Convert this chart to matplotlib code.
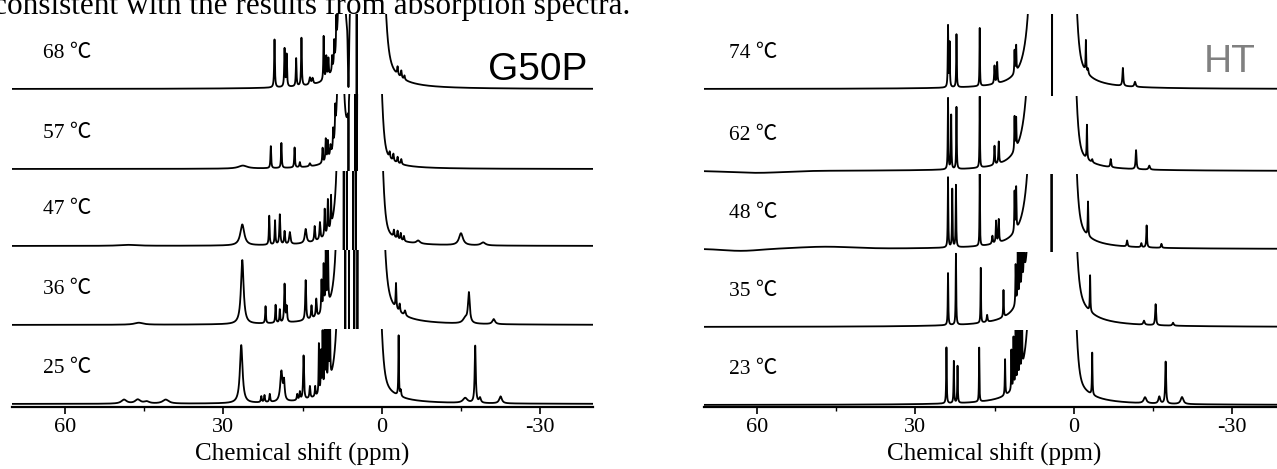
import numpy as np
import matplotlib
matplotlib.use("Agg")
import matplotlib.pyplot as plt
from matplotlib.patches import Rectangle

plt.rcParams["axes.unicode_minus"] = False
SERIF = ["Liberation Serif", "Noto Sans CJK SC", "DejaVu Sans"]

# --- chemical shift grid (ppm) ---
ppm = np.linspace(70, -40, 22001)

# --- G50P spectra: lines (ppm, height px, hwhm), bands (gaussian), notches (ppm, depth, width) ---
G50P_LABELS = ["68 ℃", "57 ℃", "47 ℃", "36 ℃", "25 ℃"]

G50P_68_LINES = [(20.3, 48, .08), (18.4, 38, .08), (18.0, 32, .08), (16.2, 28, .08), (15.2, 48, .08),
                 (13.6, 7, .15), (13.1, 6, .15), (11.0, 44, .07), (10.5, 22, .08), (10.1, 18, .08),
                 (9.4, 14, .06), (9.0, 22, .06), (8.6, 30, .06),
                 (7.6, 400, .3), (5.3, 300, .3), (2.0, 360, 1.0),
                 (-3.0, 8, .1), (-3.7, 7, .1), (-4.3, 4, .1)]
G50P_68_BANDS = [(2.0, 900, 1.3)]
G50P_68_NOTCH = [(6.3, .97, .15), (4.75, 1.05, .03)]

G50P_57_LINES = [(26.3, 3, 1.0), (21.0, 22, .08), (19.0, 25, .08), (16.5, 20, .08), (15.5, 5, .1),
                 (13.6, 3, .15), (11.2, 15, .08), (10.6, 22, .08), (10.2, 18, .08), (9.7, 10, .1),
                 (9.2, 18, .06), (8.8, 26, .06),
                 (7.8, 400, .3), (5.5, 300, .3), (2.2, 150, 1.0),
                 (-1.5, 6, .1), (-2.2, 7, .1), (-3.0, 6, .1), (-3.7, 5, .1)]
G50P_57_BANDS = [(2.2, 900, 1.1)]
G50P_57_NOTCH = [(6.3, 1.1, .04), (5.0, 1.1, .03), (4.7, 1.1, .03)]

G50P_47_LINES = [(48, 1, 2), (26.4, 21, .45), (21.3, 29, .08), (20.2, 24, .08), (19.3, 30, .1),
                 (18.4, 13, .1), (17.4, 12, .15), (14.4, 14, .2), (12.7, 15, .1), (11.7, 17, .1),
                 (10.8, 27, .08), (10.2, 33, .08), (9.6, 30, .06),
                 (7.8, 500, .3), (5.8, 400, .4), (2.0, 150, 1.0),
                 (-2.3, 7, .1), (-3.0, 8, .1), (-3.6, 7, .1), (-4.2, 5, .1), (-6.9, 3, .4),
                 (-15.0, 12, .45), (-19.2, 3, .5)]
G50P_47_BANDS = [(2.0, 900, 1.1)]
G50P_47_NOTCH = [(7.2, 1.1, .03), (6.6, 1.1, .03), (5.4, 1.1, .03), (4.9, 1.1, .03)]

G50P_36_LINES = [(46, 2, 1.0), (26.4, 64, .3), (22.0, 17, .08), (20.1, 18, .08), (19.3, 13, .08),
                 (18.4, 38, .1), (18.0, 15, .1), (14.4, 40, .1), (13.3, 13, .1), (12.4, 18, .1),
                 (11.4, 32, .08), (11.0, 45, .08), (10.6, 55, .08), (10.2, 65, .08),
                 (7.8, 600, .3), (6.5, 400, .4), (2.0, 360, 1.0),
                 (-2.7, 25, .08), (-3.4, 8, .1), (-4.4, 5, .15), (-15.8, 5, .5), (-16.5, 30, .2),
                 (-21.2, 5, .3)]
G50P_36_BANDS = [(2.0, 900, 1.2)]
G50P_36_NOTCH = [(6.9, 1.2, .03), (6.2, 1.2, .03), (5.2, 1.2, .03), (4.6, 1.2, .03)]

G50P_25_LINES = [(48.8, 4, .6), (46.2, 4, .6), (44.5, 2, .6), (40.9, 4, .7), (26.6, 58, .3),
                 (22.8, 6, .1), (22.2, 7, .1), (21.2, 8, .1), (19.0, 30, .25), (18.5, 18, .15),
                 (16.0, 6, .1), (15.5, 8, .1), (14.8, 44, .1), (13.6, 12, .1), (12.6, 10, .08),
                 (11.9, 50, .06), (11.5, 40, .06), (11.2, 58, .06), (10.8, 60, .06), (10.5, 65, .06),
                 (10.1, 70, .06), (9.8, 72, .06), (7.5, 700, .35), (5.0, 300, .6), (2.5, 200, 1.0),
                 (-3.2, 60, .06), (-3.6, 6, .1), (-15.8, 5, .5), (-17.7, 57, .12), (-18.6, 5, .2),
                 (-22.5, 7, .3)]
G50P_25_BANDS = [(2.5, 900, 1.2)]
G50P_25_NOTCH = []

# --- HT spectra ---
HT_LABELS = ["74 ℃", "62 ℃", "48 ℃", "35 ℃", "23 ℃"]

HT_74_LINES = [(23.8, 61, .06), (23.5, 44, .06), (22.2, 53, .06), (17.8, 58, .05), (15.0, 18, .08),
               (14.5, 21, .08), (11.2, 23, .06), (10.9, 26, .06), (7.0, 848, .5), (2.0, 296, 1.0),
               (-2.3, 31, .06), (-2.7, 5, .1), (-9.3, 18, .1), (-11.6, 5, .15)]
HT_74_BANDS = [(2.5, 2000, 1.3)]
HT_74_NOTCH = [(4.1, 1.1, .03)]

HT_62_LINES = [(23.8, 71, .06), (23.2, 54, .06), (22.2, 62, .06), (17.8, 71, .05), (15.0, 19, .08),
               (14.2, 22, .08), (11.2, 34, .06), (10.9, 30, .06), (7.0, 1275, .5), (2.0, 184, 1.0),
               (-2.5, 34, .06), (-3.5, 3, .1), (-7.0, 8, .1), (-11.8, 19, .1), (-14.3, 4, .15)]
HT_62_BANDS = [(2.5, 2000, 1.3), (60, -2, 6)]
HT_62_NOTCH = []

HT_48_LINES = [(23.8, 70, .06), (23.0, 58, .06), (22.3, 62, .06), (17.8, 72, .05), (15.4, 8, .1),
               (14.7, 22, .08), (14.2, 23, .08), (11.2, 40, .06), (10.9, 42, .06), (7.0, 1000, .5),
               (2.0, 250, 1.0), (-2.7, 34, .06), (-10.1, 6, .1), (-12.8, 4, .1), (-13.8, 22, .08),
               (-16.6, 4, .1)]
HT_48_BANDS = [(2.5, 2000, 1.3), (63, -2, 4), (47, 2, 6)]
HT_48_NOTCH = [(4.2, 1.1, .03)]

HT_35_LINES = [(23.8, 52, .06), (22.3, 71, .06), (17.6, 55, .05), (16.4, 7, .1), (13.3, 27, .06),
               (11.0, 40, .06), (10.6, 50, .06), (10.2, 55, .06), (9.8, 60, .06), (9.4, 65, .06),
               (7.0, 1000, .5), (2.5, 430, 1.0),
               (-3.1, 36, .06), (-13.3, 4, .15), (-15.5, 21, .1), (-18.8, 3, .15)]
HT_35_BANDS = [(2.5, 2000, 1.3)]
HT_35_NOTCH = []

HT_23_LINES = [(24.1, 56, .06), (22.7, 42, .06), (22.0, 37, .06), (17.9, 54, .05), (13.0, 36, .06),
               (11.8, 40, .05), (11.4, 50, .05), (11.0, 60, .05), (10.6, 65, .05), (10.2, 70, .05),
               (9.8, 72, .05), (7.0, 1000, .5), (2.5, 300, 1.0),
               (-3.5, 42, .06), (-13.5, 6, .3), (-16.2, 7, .2), (-17.4, 42, .1), (-20.5, 7, .3)]
HT_23_BANDS = [(2.5, 2000, 1.3)]
HT_23_NOTCH = []

# baseline heights (px above the axis line) and clip height above each baseline
G50P_BASE = [318, 238, 161, 82, 3]
HT_BASE = [318, 236, 158, 80, 2]
CAP = 75


def spectrum(lines, bands, notches):
    y = np.zeros_like(ppm)
    for c, h, w in lines:
        y += h * w ** 2 / (w ** 2 + (ppm - c) ** 2)
    for c, h, w in bands:
        y += h * np.exp(-np.log(2) * ((ppm - c) / w) ** 2)
    for c, d, w in notches:
        y *= 1 - d * np.exp(-((ppm - c) / w) ** 2)
    return y


def draw_panel(ax, spectra, bases, labels, label_x):
    for i, y in enumerate(spectra):
        base = bases[i]
        top = base + CAP
        bottom = bases[i + 1] + CAP if i + 1 < len(bases) else 0
        line, = ax.plot(ppm, base + y, color="black", lw=1.3)
        line.set_clip_path(Rectangle((-40, bottom), 110, top - bottom, transform=ax.transData))
        ax.text(label_x, base + 36, labels[i], ha="left", va="center",
                fontsize=15.5, family=SERIF)

    ax.set_xlim(70, -40)
    ax.set_ylim(0, 407)
    for side in ["top", "left", "right"]:
        ax.spines[side].set_visible(False)
    ax.spines["bottom"].set_linewidth(1.6)
    ax.set_yticks([])
    ax.set_xticks([60, 30, 0, -30])
    ax.set_xticks([45, 15, -15], minor=True)
    ax.tick_params(axis="x", which="major", direction="out", length=5, width=1.2, labelsize=16, pad=3)
    ax.tick_params(axis="x", which="minor", direction="out", length=3, width=1.0)
    for lab in ax.get_xticklabels():
        lab.set_family(SERIF)
    ax.set_xlabel("Chemical shift (ppm)", fontsize=18, family=SERIF, labelpad=4)
    ax.patch.set_alpha(0)


fig = plt.figure(figsize=(12.77, 4.69), dpi=100)
ax1 = fig.add_axes([12 / 1277, 62 / 469, 581 / 1277, 407 / 469])
ax2 = fig.add_axes([704 / 1277, 62 / 469, 581 / 1277, 407 / 469])

g50p = [spectrum(G50P_68_LINES, G50P_68_BANDS, G50P_68_NOTCH),
        spectrum(G50P_57_LINES, G50P_57_BANDS, G50P_57_NOTCH),
        spectrum(G50P_47_LINES, G50P_47_BANDS, G50P_47_NOTCH),
        spectrum(G50P_36_LINES, G50P_36_BANDS, G50P_36_NOTCH),
        spectrum(G50P_25_LINES, G50P_25_BANDS, G50P_25_NOTCH)]
ht = [spectrum(HT_74_LINES, HT_74_BANDS, HT_74_NOTCH),
      spectrum(HT_62_LINES, HT_62_BANDS, HT_62_NOTCH),
      spectrum(HT_48_LINES, HT_48_BANDS, HT_48_NOTCH),
      spectrum(HT_35_LINES, HT_35_BANDS, HT_35_NOTCH),
      spectrum(HT_23_LINES, HT_23_BANDS, HT_23_NOTCH)]

draw_panel(ax1, g50p, G50P_BASE, G50P_LABELS, 64.2)
draw_panel(ax2, ht, HT_BASE, HT_LABELS, 65.3)

ax1.text(-39, 327, "G50P", ha="right", va="baseline", fontsize=28, family="Liberation Sans")
ax2.text(-34.5, 335, "HT", ha="right", va="baseline", fontsize=28, family="Liberation Sans",
         color="#808080")

# sentence from the page above the figure, cut by the top edge as in the scan
fig.text(630 / 1277, 1 - 14 / 469, "consistent with the results from absorption spectra.",
         ha="right", va="baseline", fontsize=22.5, family=SERIF)

fig.savefig("out.png", dpi=100)
